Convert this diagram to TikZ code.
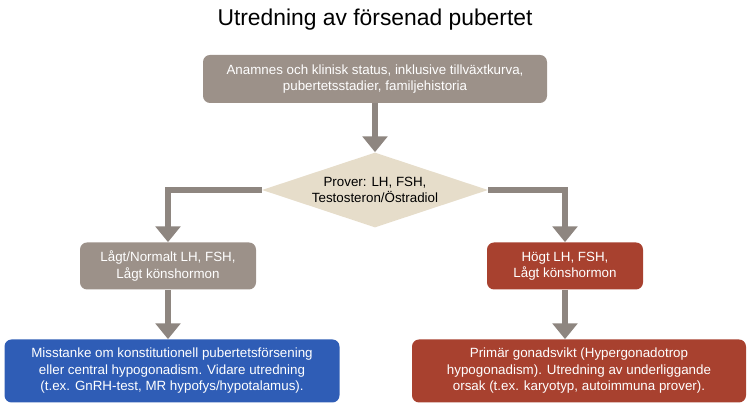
\documentclass[tikz,border=0pt]{standalone}
\usepackage{fontspec}
\setmainfont{Liberation Sans}
\usetikzlibrary{shapes.geometric,arrows.meta}
\definecolor{taupe}{HTML}{9C9189}
\definecolor{sand}{HTML}{E6DDCA}
\definecolor{rust}{HTML}{A8412F}
\definecolor{royal}{HTML}{2F5DB6}
\definecolor{pipe}{HTML}{8E8680}
\tikzset{
	box/.style={rectangle, rounded corners=4pt, text=white, align=center, inner sep=2pt,
		font=\fontsize{7.6}{9.4}\selectfont},
	flow/.style={draw=pipe, line width=3.6pt, -{Triangle[length=9pt,width=14pt]}}
}
\begin{document}
\begin{tikzpicture}
	\useasboundingbox (0,0) rectangle (15,8.18);
	\node (title) at (7.5,7.78) {\fontsize{13}{15}\selectfont Utredning av försenad pubertet};
	
	\node[box, fill=taupe, minimum width=6.88cm, minimum height=0.96cm] (anam) at (7.5,6.6)
		{Anamnes och klinisk status, inklusive tillväxtkurva,\\pubertetsstadier, familjehistoria};
	\node[diamond, fill=sand, aspect=3, minimum width=4.52cm, minimum height=1.5cm, inner sep=0pt,
		align=center, font=\fontsize{7.6}{9.4}\selectfont] (prov) at (7.5,4.38)
		{Prover: LH, FSH,\\Testosteron/Östradiol};
	\node[box, fill=taupe, minimum width=3.52cm, minimum height=0.94cm] (low) at (3.36,2.86)
		{Lågt/Normalt LH, FSH,\\Lågt könshormon};
	\node[box, fill=rust, minimum width=3.12cm, minimum height=0.94cm] (high) at (11.3,2.86)
		{Högt LH, FSH,\\Lågt könshormon};
	\node[box, fill=royal, minimum width=6.7cm, minimum height=1.26cm] (central) at (3.44,0.76)
		{Misstanke om konstitutionell pubertetsförsening\\eller central hypogonadism. Vidare utredning\\(t.ex. GnRH-test, MR hypofys/hypotalamus).};
	\node[box, fill=rust, minimum width=6.68cm, minimum height=1.26cm] (primar) at (11.58,0.76)
		{Primär gonadsvikt (Hypergonadotrop\\hypogonadism). Utredning av underliggande\\orsak (t.ex. karyotyp, autoimmuna prover).};
	
	\draw[flow] (anam) -- (prov);
	\draw[flow] (prov.west) -| (low.north);
	\draw[flow] (prov.east) -| (high.north);
	\draw[flow] (low.south) -- (low.south |- central.north);
	\draw[flow] (high.south) -- (high.south |- primar.north);
\end{tikzpicture}
\end{document}
